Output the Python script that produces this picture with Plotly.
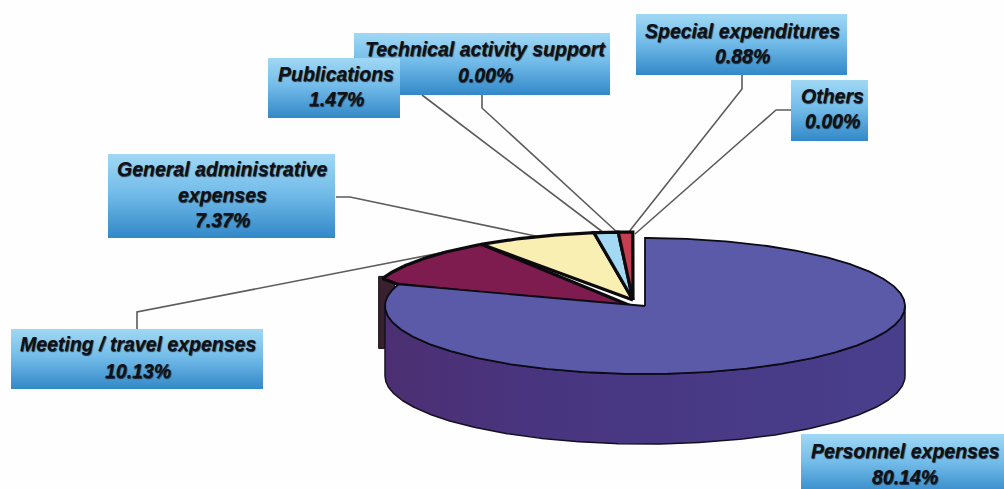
import math
import plotly.graph_objects as go

# ---- data ----
categories = ["Personnel expenses", "Meeting / travel expenses", "General administrative expenses",
              "Publications", "Technical activity support", "Special expenditures", "Others"]
shares = [80.14, 10.13, 7.37, 1.47, 0.00, 0.88, 0.00]
label_lines = [["Personnel expenses"], ["Meeting / travel expenses"], ["General administrative", "expenses"],
               ["Publications"], ["Technical activity support"], ["Special expenditures"], ["Others"]]

# ---- style / layout (pixel-valued axes) ----
W, H = 1004, 489
slice_colors = ["#5a5aa9", "#7e1b4f", "#f9efb2", "#a3d9f2", "#c93d52", "#c93d52", "#c93d52"]
MAIN_C, REST_C = (645, 306), (633, 300)
SECOND_APEX = (636, 308)
RX, RY, DEPTH = 260, 68, 70
REST_RX = 264
FONT = "Liberation Sans, Arial, sans-serif"
# box: x0, y0, x1, y1 ; text centre x ; text centre ys
boxes = {
    "Technical activity support": (354, 33, 610, 95, 485, [49, 75]),
    "Publications": (268, 58, 400, 118, 336, [74, 99]),
    "General administrative expenses": (108, 154, 335, 238, 222, [169, 195, 220]),
    "Special expenditures": (636, 14, 847, 75, 742, [31, 56]),
    "Others": (791, 80, 868, 141, 832, [96, 121]),
    "Meeting / travel expenses": (11, 329, 263, 389, 138, [344, 371]),
    "Personnel expenses": (801, 434, 1010, 495, 905, [451, 477]),
}
leaders = [
    [(137, 329), (137, 312), (445, 252)],
    [(336, 197), (350, 197), (545, 238)],
    [(422, 95), (604, 233)],
    [(482, 95), (482, 108), (618, 233)],
    [(742, 75), (742, 89), (628, 233)],
    [(792, 110), (776, 110), (635, 234)],
]

fig = go.Figure()


def arc(c, a0, a1, rx=RX, ry=RY, dy=0):
    n = max(2, int(abs(a1 - a0) * 1.5))
    pts = [a0 + (a1 - a0) * i / n for i in range(n + 1)]
    return ([c[0] + rx * math.sin(math.radians(a)) for a in pts],
            [c[1] + dy - ry * math.cos(math.radians(a)) for a in pts])


def poly(xs, ys, fill=None, lw=0.0, lc="black", grad=None):
    kw = dict(x=xs, y=ys, mode="lines", fill="toself", hoverinfo="skip", showlegend=False,
              line=dict(color=lc, width=lw))
    if grad:
        kw["fillgradient"] = grad
    else:
        kw["fillcolor"] = fill
    fig.add_trace(go.Scatter(**kw))


# leader lines (beneath the pie and the boxes)
for seg in leaders:
    fig.add_trace(go.Scatter(x=[p[0] for p in seg], y=[p[1] for p in seg], mode="lines",
                             hoverinfo="skip", showlegend=False,
                             line=dict(color="#5f5a5c", width=1.6)))

# angles from the values, clockwise from the top
angles = []
acc = 0.0
for v in shares:
    angles.append((acc, acc + v * 3.6))
    acc += v * 3.6

# side wall of the second slice
a0 = angles[1][0]
lx = REST_C[0] + REST_RX * math.sin(math.radians(a0))
ly = REST_C[1] - RY * math.cos(math.radians(a0))
poly([lx - 4, lx - 4, lx + 12, lx + 12, lx - 4], [ly - 2, ly + DEPTH, ly + DEPTH, ly - 2, ly - 2],
     fill="#39202f", lw=1, lc="#1d1017")

# side wall of the main slice
xa, ya = arc(MAIN_C, 90, 270)
xb, yb = arc(MAIN_C, 270, 90, dy=DEPTH)
poly(xa + xb + xa[:1], ya + yb + ya[:1], lw=1.5, lc="#141020",
     grad=dict(type="horizontal", start=385, stop=905,
               colorscale=[[0, "#4c2f72"], [0.3, "#483580"], [1, "#483f8c"]]))

# main slice outline point where the second slice begins
main_xs, main_ys = arc(MAIN_C, angles[0][0], angles[0][1])

# smaller slices, then the main slice
for i in range(1, len(shares)):
    if shares[i] <= 0:
        continue
    apex = SECOND_APEX if i == 1 else REST_C
    xs, ys = arc(REST_C, angles[i][0], angles[i][1], rx=REST_RX)
    if i == 1:
        xs = [main_xs[-1]] + xs
        ys = [main_ys[-1]] + ys
    poly([apex[0]] + xs + [apex[0]], [apex[1]] + ys + [apex[1]],
         fill=slice_colors[i], lw=3.2, lc="#0c0a0c")
poly([MAIN_C[0]] + main_xs + [MAIN_C[0]], [MAIN_C[1]] + main_ys + [MAIN_C[1]],
     fill=slice_colors[0], lw=1.8, lc="#0c0a14")

# label boxes and their text
annotations = []
for name in ["Technical activity support", "Publications", "General administrative expenses",
             "Special expenditures", "Others", "Meeting / travel expenses", "Personnel expenses"]:
    x0, y0, x1, y1, tx, tys = boxes[name]
    poly([x0, x1, x1, x0, x0], [y0, y0, y1, y1, y0], lw=0, lc="rgba(0,0,0,0)",
         grad=dict(type="vertical", start=y0, stop=y1,
                   colorscale=[[0, "#a0d8f4"], [0.45, "#74bdea"], [1, "#3288c8"]]))
    k = categories.index(name)
    lines = label_lines[k] + [f"{shares[k]:.2f}%"]
    for ln, ty in zip(lines, tys):
        annotations.append(dict(x=tx, y=ty, text=f"<b><i>{ln}</i></b>", showarrow=False,
                                xanchor="center", yanchor="middle",
                                font=dict(family=FONT, size=19.5, color="#0e1118",
                                          shadow="0.6px 0.6px 1px rgba(10,10,20,0.8)")))

fig.update_layout(
    width=W, height=H, margin=dict(l=0, r=0, t=0, b=0), autosize=False,
    paper_bgcolor="#fefefe", plot_bgcolor="#fefefe",
    xaxis=dict(range=[0, W], visible=False, fixedrange=True),
    yaxis=dict(range=[H, 0], visible=False, fixedrange=True),
    annotations=annotations,
)
fig.write_html("out.html", config={"displayModeBar": False},
               post_script="document.body.style.margin='0';document.body.style.overflow='hidden';")
